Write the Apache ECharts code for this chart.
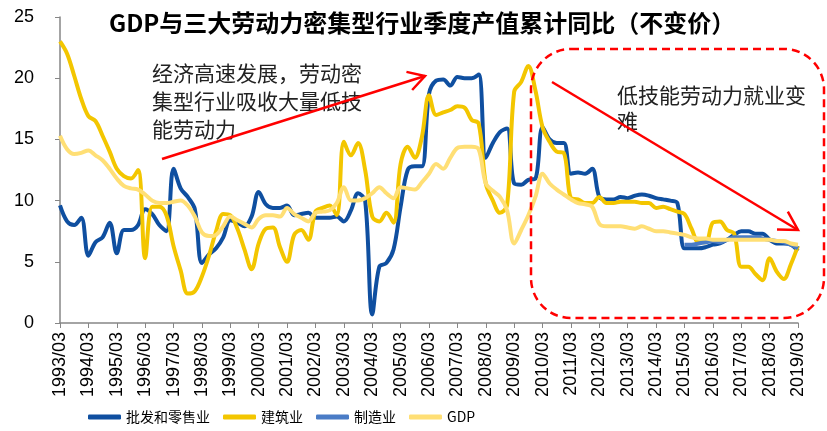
<!DOCTYPE html>
<html>
<head>
<meta charset="utf-8">
<script src="https://cdn.jsdelivr.net/npm/echarts@6/dist/echarts.min.js"></script>
<style>
  html, body { margin: 0; padding: 0; background: #fff; }
  #chart { width: 827px; height: 431px; }
</style>
</head>
<body>
<div id="chart"></div>
<script>
// quarterly cumulative YoY growth, constant prices (%)
const quarters = [];
for (let y = 1993; y <= 2019; y++) {
  for (const m of ['03', '06', '09', '12']) {
    if (y === 2019 && m !== '03') break;
    quarters.push(y + '/' + m);
  }
}

const yTicks = [0, 5, 10, 15, 20, 25];

const retail = [
  9.6, 8.3, 8.0, 8.6,   5.5, 6.6, 7.0, 8.2,   5.7, 7.6, 7.6, 8.0,   9.3, 8.9, 8.0, 7.5,
  12.6, 11.0, 10.3, 9.3,  4.9, 5.6, 6.1, 7.0,   8.4, 8.2, 7.9, 8.7,   10.7, 9.7, 9.4, 9.4,
  9.6, 8.8, 8.9, 9.0,   8.6, 8.6, 8.6, 8.7,   8.3, 9.2, 10.6, 10.0,  0.7, 4.6, 4.9, 6.0,
  9.5, 12.5, 12.8, 12.8,  18.7, 19.8, 19.9, 19.4,  20.1, 20.0, 20.0, 20.3,  13.5, 14.7, 15.6, 15.9,
  11.4, 11.3, 11.7, 11.8,  16.0, 15.0, 14.7, 14.7,  12.2, 12.3, 12.2, 12.6,  10.3, 10.1, 10.1, 10.3,
  10.2, 10.4, 10.5, 10.4,  10.2, 10.1, 10.0, 9.8,  6.1, 6.1, 6.1, 6.2,   6.4, 6.5, 6.8, 7.2,
  7.5, 7.5, 7.3, 7.3,   6.8, 6.5, 6.5, 6.4,   5.9
];

const construction = [
  23.0, 22.0, 20.2, 18.3,  16.9, 16.5, 15.3, 14.0,  12.6, 12.0, 11.8, 12.5,  5.3, 9.5, 9.5, 8.8,
  6.3, 4.3, 2.4, 2.6,   3.8, 5.5, 7.5, 8.9,   8.8, 7.7, 6.0, 4.4,   6.5, 7.7, 7.8, 6.2,
  5.0, 7.2, 7.6, 6.8,   9.1, 9.4, 9.6, 8.8,   14.8, 13.7, 14.7, 12.5,  8.7, 8.3, 9.0, 8.2,
  13.0, 14.4, 13.5, 15.2,  18.6, 17.0, 17.2, 17.4,  17.7, 17.6, 16.6, 16.3,  11.4, 10.0, 9.0, 9.6,
  18.9, 19.7, 21.0, 19.0,  16.0, 14.8, 14.0, 13.9,  10.2, 10.1, 9.8, 9.8,  10.3, 9.8, 9.8, 9.9,
  9.9, 9.9, 9.8, 9.8,   9.4, 9.5, 9.3, 9.1,   8.9, 7.7, 6.6, 6.6,   8.2, 8.3, 7.6, 7.3,
  4.6, 4.6, 4.0, 3.5,   5.3, 4.2, 3.6, 4.8,   6.3
];

// manufacturing is only visible from 2015/03 on
const mfgStart = '2015/03';
const mfgValues = [
  6.4, 6.4, 6.5, 6.6,   6.7, 6.6, 6.8, 7.0,   7.0, 7.0, 7.0, 6.9,   6.8, 6.7, 6.6, 6.4,   6.1
];

const gdp = [
  15.3, 14.2, 13.8, 13.9,  14.1, 13.7, 13.3, 12.6,  11.8, 11.2, 11.0, 10.9,  10.5, 10.0, 9.8, 9.8,
  9.9, 10.0, 9.6, 8.7,   7.4, 7.1, 7.2, 7.9,   8.7, 8.4, 8.1, 7.8,   8.5, 8.8, 8.8, 8.7,
  9.4, 8.9, 8.6, 8.3,   9.0, 9.1, 9.2, 9.8,   11.1, 10.0, 10.0, 10.2,  10.6, 11.1, 10.6, 10.2,
  11.1, 11.0, 10.9, 11.5,  12.2, 13.0, 12.6, 13.5,  14.3, 14.4, 14.4, 14.2,  11.4, 10.8, 10.3, 9.2,
  6.5, 7.6, 8.8, 10.3,  12.2, 11.4, 10.9, 10.5,  10.1, 9.8, 9.7, 9.5,   8.1, 7.9, 7.9, 7.9,
  7.8, 7.7, 7.9, 7.7,   7.5, 7.5, 7.4, 7.3,   7.2, 7.0, 6.9, 6.9,   6.8, 6.8, 6.8, 6.8,
  6.8, 6.8, 6.8, 6.8,   6.8, 6.7, 6.7, 6.5,   6.4
];

const seriesNames = ['批发和零售业', '建筑业', '制造业', 'GDP'];
const seriesColors = ['#0f4fa0', '#f3c600', '#4a7cc6', '#ffdf75'];

const mfgOffset = quarters.indexOf(mfgStart);
const manufacturing = quarters.map((q, i) =>
  i < mfgOffset ? null : mfgValues[i - mfgOffset]);

const cjk = '"Noto Sans CJK SC", sans-serif';
const latin = '"Liberation Sans", Arial, sans-serif';

// red arrow: shaft plus two arms at the tip
function arrow(x1, y1, x2, y2, arm) {
  const a = Math.atan2(y2 - y1, x2 - x1) + Math.PI;
  const s = 30 * Math.PI / 180;
  const style = { stroke: '#ff0000', lineWidth: 2.5 };
  return [
    { type: 'line', shape: { x1, y1, x2, y2 }, style },
    { type: 'polyline', shape: { points: [
      [x2 + arm * Math.cos(a - s), y2 + arm * Math.sin(a - s)],
      [x2, y2],
      [x2 + arm * Math.cos(a + s), y2 + arm * Math.sin(a + s)]
    ] }, style }
  ];
}

const chart = echarts.init(document.getElementById('chart'), null, { renderer: 'canvas' });

function makeLine(name, data, color) {
  return {
    name, type: 'line', data,
    smooth: 0.35,
    showSymbol: false,
    connectNulls: false,
    lineStyle: { color, width: 4 },
    itemStyle: { color },
    emphasis: { disabled: true }
  };
}

chart.setOption({
  animation: false,
  title: {
    text: 'GDP与三大劳动力密集型行业季度产值累计同比（不变价）',
    left: 104, top: 6,
    textStyle: { fontFamily: cjk, fontSize: 24, fontWeight: 'bold', color: '#000' }
  },
  grid: { left: 60, right: 29, top: 17, bottom: 108 },
  legend: {
    left: 88, top: 410, padding: 0,
    itemWidth: 33, itemHeight: 5, itemGap: 13,
    icon: 'roundRect',
    data: seriesNames,
    textStyle: { fontFamily: cjk, fontSize: 14, color: '#000' }
  },
  xAxis: {
    type: 'category',
    data: quarters,
    boundaryGap: false,
    axisLine: { lineStyle: { color: '#868686', width: 1.5 } },
    axisTick: { interval: 3, length: 5, lineStyle: { color: '#868686' } },
    axisLabel: {
      interval: 3, rotate: 90, margin: 9,
      fontFamily: latin, fontSize: 18, color: '#000'
    },
    splitLine: { show: false }
  },
  yAxis: {
    type: 'value',
    min: yTicks[0], max: yTicks[yTicks.length - 1], interval: 5,
    axisLine: { show: true, lineStyle: { color: '#868686', width: 1.5 } },
    axisTick: { show: true, length: 5, lineStyle: { color: '#868686' } },
    axisLabel: { margin: 26, fontFamily: latin, fontSize: 18, color: '#000' },
    splitLine: { show: false }
  },
  series: [
    makeLine(seriesNames[0], retail, seriesColors[0]),
    makeLine(seriesNames[1], construction, seriesColors[1]),
    makeLine(seriesNames[2], manufacturing, seriesColors[2]),
    makeLine(seriesNames[3], gdp, seriesColors[3])
  ],
  graphic: [
    {
      type: 'rect', z: 100,
      shape: { x: 531, y: 49, width: 293, height: 269, r: 40 },
      style: { fill: null, stroke: '#ff0000', lineWidth: 2.5, lineDash: [8, 5] }
    },
    {
      type: 'text', z: 100, x: 152, y: 59,
      style: {
        text: '经济高速发展，劳动密\n集型行业吸收大量低技\n能劳动力',
        font: '21px ' + cjk, lineHeight: 28, fill: '#222'
      }
    },
    {
      type: 'text', z: 100, x: 617, y: 82,
      style: {
        text: '低技能劳动力就业变\n难',
        font: '21px ' + cjk, lineHeight: 26, fill: '#222'
      }
    },
    ...arrow(162, 159, 425, 76, 19).map(e => Object.assign(e, { z: 100 })),
    ...arrow(552, 82, 798, 230, 21).map(e => Object.assign(e, { z: 100 }))
  ]
});
</script>
</body>
</html>
